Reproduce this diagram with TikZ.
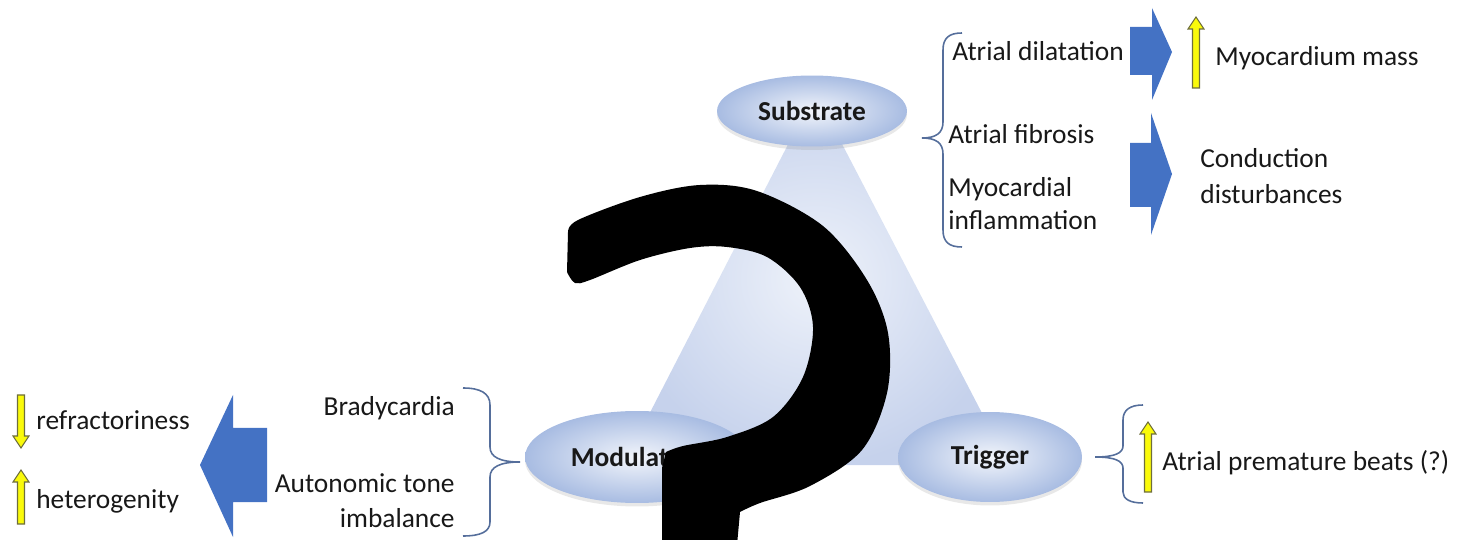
\documentclass[tikz,border=0pt]{standalone}
\usepackage{fontspec}
\setmainfont{Carlito}
\usetikzlibrary{shapes.geometric,shadows}
\definecolor{txt}{RGB}{24,24,24}
\definecolor{blk}{RGB}{68,114,196}
\definecolor{brc}{RGB}{85,110,155}
\definecolor{yel}{RGB}{250,250,10}
\definecolor{yedge}{RGB}{110,110,60}
\definecolor{elin}{RGB}{242,245,251}
\definecolor{elout}{RGB}{168,188,226}
\definecolor{trin}{RGB}{238,242,250}
\definecolor{trout}{RGB}{198,210,236}
\tikzset{
  lbl/.style={font=\fontsize{15.6pt}{19.5pt}\selectfont, text=txt, inner sep=0pt},
  oval/.style={ellipse, shade, inner color=elin, outer color=elout,
    font=\bfseries\fontsize{15.6pt}{19pt}\selectfont, text=txt, inner sep=0pt,
    drop shadow={opacity=0.18, shadow xshift=0pt, shadow yshift=-0.07cm}},
  blockarrow/.style={fill=blk},
  yarrow/.style={fill=yel, draw=yedge, line width=0.6pt},
  bracepath/.style={draw=brc, line width=0.9pt},
  qmark/.style={fill=black},
}
\newcommand\yup[3]{\filldraw[yarrow] ({#1-3.5},#3) -- ({#1-3.5},{#2+12}) -- ({#1-8},{#2+12}) -- (#1,#2) -- ({#1+8},{#2+12}) -- ({#1+3.5},{#2+12}) -- ({#1+3.5},#3) -- cycle;}
\newcommand\ydown[3]{\filldraw[yarrow] ({#1-3.5},#2) -- ({#1-3.5},{#3-12}) -- ({#1-8},{#3-12}) -- (#1,#3) -- ({#1+8},{#3-12}) -- ({#1+3.5},{#3-12}) -- ({#1+3.5},#2) -- cycle;}
\begin{document}
\begin{tikzpicture}[x=0.02cm, y=-0.02cm]
\useasboundingbox (0,0) rectangle (1464,540);
% triangle
\shade[inner color=trin, outer color=trout] (815,92) -- (1009,465) -- (623,465) -- cycle;
% ovals
\node[oval, minimum width=3.8cm, minimum height=1.42cm] (sub) at (812,111) {Substrate};
\node[oval, minimum width=4.48cm, minimum height=1.84cm] (mod) at (637,457) {Modulators};
\node[oval, minimum width=3.68cm, minimum height=1.8cm] (trig) at (990,457) {Trigger};
% substrate side
\coordinate (stip) at (922,138);
\draw[bracepath] (962,33) .. controls (949,33) and (943,38) .. (943,50) -- (943,122) .. controls (943,133) and (936,138) .. (stip) .. controls (936,138) and (943,143) .. (943,154) -- (943,230) .. controls (943,242) and (949,247) .. (962,247);
\node[lbl, anchor=base west] (ad) at (952,61) {Atrial dilatation};
\node[lbl, anchor=base west] (af) at (948,144) {Atrial fibrosis};
\node[lbl, anchor=base west] (mi1) at (948,197) {Myocardial};
\node[lbl, anchor=base west] (mi2) at (948,230) {inflammation};
\fill[blockarrow] (1130,27) -- (1152,27) -- (1152,8) -- (1172,52) -- (1152,100) -- (1152,75) -- (1130,75) -- cycle;
\fill[blockarrow] (1130,143) -- (1151,143) -- (1151,113) -- (1172,174) -- (1151,235) -- (1151,207) -- (1130,207) -- cycle;
\yup{1196}{17}{88}
\node[lbl, anchor=base west] (mm) at (1215,66) {Myocardium mass};
\node[lbl, anchor=base west] (cd1) at (1200,168) {Conduction};
\node[lbl, anchor=base west] (cd2) at (1200,204) {disturbances};
% modulators side
\coordinate (mtip) at (520,462);
\draw[bracepath] (463,388) .. controls (480,388) and (490,393) .. (490,405) -- (490,447) .. controls (490,457) and (500,462) .. (mtip) .. controls (500,462) and (490,467) .. (490,477) -- (490,522) .. controls (490,532) and (480,536) .. (463,536);
\node[lbl, anchor=base east] (br) at (455,416) {Bradycardia};
\node[lbl, anchor=base east] (at1) at (455,492) {Autonomic tone};
\node[lbl, anchor=base east] (at2) at (455,527) {imbalance};
\fill[blockarrow] (267,428) -- (233,428) -- (233,395) -- (200,465) -- (233,537) -- (233,502) -- (267,502) -- cycle;
\ydown{21}{395}{448}
\yup{21}{470}{524}
\node[lbl, anchor=base west] (rf) at (36,430) {refractoriness};
\node[lbl, anchor=base west] (ht) at (36,508) {heterogenity};
% trigger side
\coordinate (ttip) at (1095,457);
\draw[bracepath] (1143,405) .. controls (1130,405) and (1123,410) .. (1123,420) -- (1123,446) .. controls (1123,453) and (1115,457) .. (ttip) .. controls (1115,457) and (1123,461) .. (1123,468) -- (1123,492) .. controls (1123,499) and (1130,503) .. (1143,503);
\yup{1148}{422}{492}
\node[lbl, anchor=base west] (apb) at (1162,470) {Atrial premature beats (?)};
% big question mark
\fill[qmark] plot[smooth, tension=0.55] coordinates {(568,232) (578,220) (640,197) (700,185) (757,191) (823,226) (867,280) (888,333) (887,393) (862,450) (810,486) (760,503) (740,512)} -- (737,545) -- (662,545) -- (662,468) -- plot[smooth, tension=0.55] coordinates {(666,452) (683,446) (727,437) (773,417) (803,377) (813,327) (800,287) (767,257) (727,247) (690,248) (640,260) (590,280) (575,283) (567,272)} -- cycle;
\end{tikzpicture}
\end{document}
